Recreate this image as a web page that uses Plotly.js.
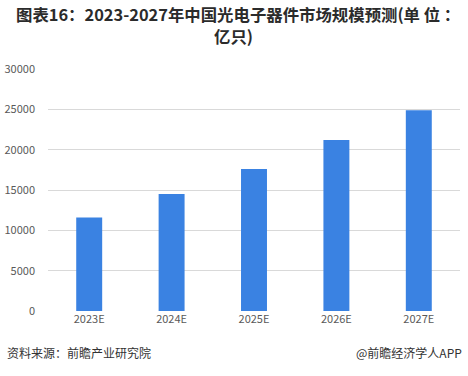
<!DOCTYPE html>
<html><head><meta charset="utf-8">
<script src="https://cdn.plot.ly/plotly-3.0.1.min.js"></script>
<style>body{margin:0;padding:0;background:#fff}#chart{width:468px;height:376px}</style>
</head><body><div id="chart"></div>
<script>
var categories = ["2023E","2024E","2025E","2026E","2027E"];
var values = [11600, 14500, 17600, 21200, 24900];
var yTicks = [0,5000,10000,15000,20000,25000,30000];
var titleLine1 = "图表16：2023-2027年中国光电子器件市场规模预测(单 位 ：";
var titleLine2 = "亿只)";
var sourceText = "资料来源：前瞻产业研究院";
var brandText = "@前瞻经济学人APP";

var font = '"Microsoft YaHei","Noto Sans CJK SC","Noto Sans",sans-serif';
var trace = {
  type: "bar", x: categories, y: values,
  marker: {color: "#3a82e2"}, hoverinfo: "none"
};
var titleFont = {family: font, size: 16.4, color: "#2b2b2b", weight: "bold"};
var layout = {
  width: 468, height: 376,
  margin: {l: 48, r: 8, t: 69, b: 65},
  paper_bgcolor: "#fff", plot_bgcolor: "#fff",
  bargap: 0.685,
  showlegend: false,
  xaxis: {type: "category", showgrid: false, zeroline: false, showline: false,
    ticks: "", tickfont: {family: font, size: 11, color: "#595959"}},
  yaxis: {range: [0, 30000], tickvals: yTicks, ticktext: yTicks.map(String),
    showgrid: true, gridcolor: "#d9d9d9", gridwidth: 1, zeroline: false, showline: false,
    ticks: "", ticklabelstandoff: 12, tickfont: {family: font, size: 11, color: "#595959"}},
  annotations: [
    {text: titleLine1, xref: "paper", yref: "paper", x: 0.462, y: 1.227, xanchor: "center", yanchor: "middle",
     showarrow: false, font: titleFont},
    {text: titleLine2, xref: "paper", yref: "paper", x: 0.451, y: 1.136, xanchor: "center", yanchor: "middle",
     showarrow: false, font: titleFont},
    {text: sourceText, xref: "paper", yref: "paper", x: -0.105, y: -0.13, xanchor: "left", yanchor: "top",
     showarrow: false, font: {family: font, size: 12, color: "#333"}},
    {text: brandText, xref: "paper", yref: "paper", x: 1.01, y: -0.13, xanchor: "right", yanchor: "top",
     showarrow: false, font: {family: font, size: 12, color: "#333"}}
  ]
};
Plotly.newPlot("chart", [trace], layout, {displayModeBar: false, staticPlot: true});
</script></body></html>
